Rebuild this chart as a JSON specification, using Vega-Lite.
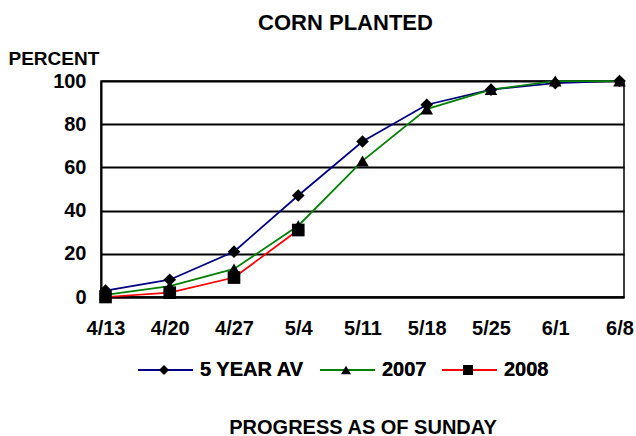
{
  "$schema": "https://vega.github.io/schema/vega-lite/v6.json",
  "width": 523,
  "height": 216,
  "autosize": "none",
  "padding": {"left": 101, "top": 81, "right": 12, "bottom": 139},
  "background": "white",
  "config": {
    "font": "Liberation Sans",
    "view": {"stroke": "black", "strokeWidth": 1.5},
    "axis": {"labelFont": "Liberation Sans", "titleFont": "Liberation Sans"},
    "legend": {"labelFont": "Liberation Sans"}
  },
  "title": {
    "text": "CORN PLANTED",
    "font": "Liberation Sans",
    "fontSize": 22,
    "fontWeight": "bold",
    "color": "black",
    "anchor": "middle",
    "frame": "group",
    "dx": -17,
    "offset": 14
  },
  "data": {
    "values": [
      {"week": "4/13", "series": "5 YEAR AV", "value": 3},
      {"week": "4/20", "series": "5 YEAR AV", "value": 8},
      {"week": "4/27", "series": "5 YEAR AV", "value": 21},
      {"week": "5/4", "series": "5 YEAR AV", "value": 47},
      {"week": "5/11", "series": "5 YEAR AV", "value": 72},
      {"week": "5/18", "series": "5 YEAR AV", "value": 89},
      {"week": "5/25", "series": "5 YEAR AV", "value": 96},
      {"week": "6/1", "series": "5 YEAR AV", "value": 99},
      {"week": "6/8", "series": "5 YEAR AV", "value": 100},
      {"week": "4/13", "series": "2007", "value": 1},
      {"week": "4/20", "series": "2007", "value": 5},
      {"week": "4/27", "series": "2007", "value": 13},
      {"week": "5/4", "series": "2007", "value": 33},
      {"week": "5/11", "series": "2007", "value": 63},
      {"week": "5/18", "series": "2007", "value": 87},
      {"week": "5/25", "series": "2007", "value": 96},
      {"week": "6/1", "series": "2007", "value": 100},
      {"week": "6/8", "series": "2007", "value": 100},
      {"week": "4/13", "series": "2008", "value": 0},
      {"week": "4/20", "series": "2008", "value": 2},
      {"week": "4/27", "series": "2008", "value": 9},
      {"week": "5/4", "series": "2008", "value": 31}
    ]
  },
  "encoding": {
    "x": {
      "field": "week",
      "type": "ordinal",
      "sort": ["4/13", "4/20", "4/27", "5/4", "5/11", "5/18", "5/25", "6/1", "6/8"],
      "scale": {"type": "point", "padding": 0.07},
      "axis": {
        "title": "PROGRESS AS OF SUNDAY",
        "titleFontSize": 20,
        "titleFontWeight": "bold",
        "titleColor": "black",
        "titleY": 130,
        "titleBaseline": "middle",
        "labelAngle": 0,
        "labelFontSize": 20,
        "labelFontWeight": "bold",
        "labelColor": "black",
        "labelPadding": 21,
        "ticks": false,
        "domainColor": "black",
        "domainWidth": 2,
        "grid": false
      }
    },
    "y": {
      "field": "value",
      "type": "quantitative",
      "scale": {"domain": [0, 100], "nice": false},
      "axis": {
        "title": "PERCENT",
        "titleAngle": 0,
        "titleAlign": "left",
        "titleBaseline": "middle",
        "titleX": -93,
        "titleY": -23,
        "titleFontSize": 19,
        "titleFontWeight": "bold",
        "titleColor": "black",
        "values": [0, 20, 40, 60, 80, 100],
        "labelFontSize": 20,
        "labelFontWeight": "bold",
        "labelColor": "black",
        "labelPadding": 15,
        "ticks": false,
        "domainColor": "black",
        "domainWidth": 2,
        "grid": true,
        "gridColor": "black",
        "gridWidth": 2,
        "gridOpacity": 1
      }
    }
  },
  "layer": [
    {
      "mark": {"type": "line", "strokeWidth": 1.75},
      "encoding": {
        "color": {
          "field": "series",
          "type": "nominal",
          "scale": {"domain": ["5 YEAR AV", "2007", "2008"], "range": ["#000080", "#008000", "#ff0000"]},
          "legend": {
            "title": null,
            "orient": "none",
            "direction": "horizontal",
            "legendX": 36,
            "legendY": 279,
            "clipHeight": 20,
            "symbolType": "stroke",
            "symbolSize": 3025,
            "symbolStrokeWidth": 2,
            "labelOffset": 6,
            "labelFontSize": 20,
            "labelFontWeight": "bold",
            "labelColor": "black",
            "columnPadding": 14
          }
        }
      }
    },
    {
      "mark": {"type": "point", "filled": true, "color": "black", "opacity": 1, "size": 160},
      "encoding": {
        "shape": {
          "field": "series",
          "type": "nominal",
          "sort": ["5 YEAR AV", "2007", "2008"],
          "scale": {"range": ["diamond", "triangle-up", "square"]},
          "legend": {
            "title": null,
            "orient": "none",
            "direction": "horizontal",
            "legendX": 36,
            "legendY": 279,
            "clipHeight": 20,
            "symbolSize": 100,
            "symbolFillColor": "black",
            "symbolStrokeColor": "black",
            "symbolStrokeWidth": 0,
            "symbolOffset": 17,
            "labelOffset": 26,
            "labelFontSize": 20,
            "labelFontWeight": "bold",
            "labelColor": "black",
            "columnPadding": 14
          }
        }
      }
    }
  ]
}
